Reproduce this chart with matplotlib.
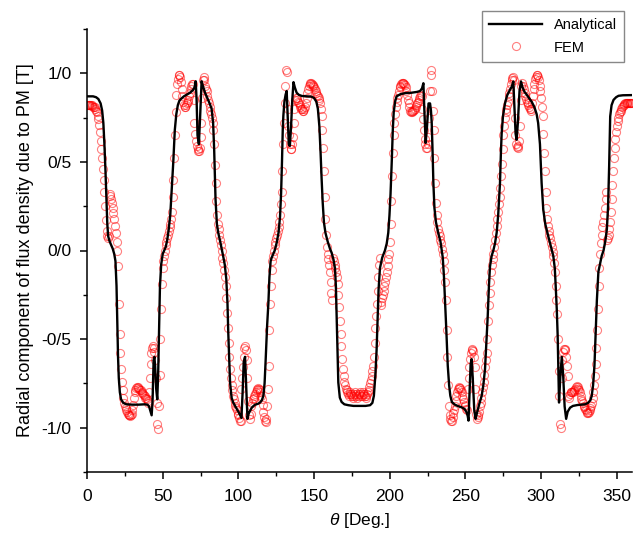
import numpy as np
import matplotlib
matplotlib.use("Agg")
import matplotlib.pyplot as plt
from matplotlib.ticker import MultipleLocator, FixedLocator, FixedFormatter

plt.rcParams['font.family'] = ['Liberation Sans', 'DejaVu Sans']
plt.rcParams['mathtext.fontset'] = 'custom'
plt.rcParams['mathtext.it'] = 'Liberation Sans:italic'
plt.rcParams['mathtext.rm'] = 'Liberation Sans'

# ---------------- data ----------------
# Analytical curve (theta [deg], B [T])
theta_analytical = [
    0, 4, 6, 7.5, 9, 10, 10.8, 11.5, 12.2, 12.8, 13.4, 14, 15, 16, 17, 18, 18.8, 19.5, 20, 20.5,
    21, 21.7, 22.5, 24, 26, 30, 34, 38, 40, 41, 42, 42.7, 43.3, 44, 44.5, 45, 45.7, 46.4, 47, 47.6,
    48.2, 49, 50, 51, 52, 53, 54, 55, 56, 57, 58, 59, 60, 61, 62, 64, 66, 68, 70, 71,
    71.8, 72.4, 73, 73.9, 74.7, 75.7, 76.5, 78, 79.5, 81, 82.3, 83.3, 84, 84.9, 85.8, 86.7, 88, 89.9, 91, 92,
    92.8, 93.3, 94, 94.5, 95.5, 96.6, 98, 100, 101.2, 102, 102.8, 103.5, 104.4, 105.2, 106, 106.8, 108, 109, 111, 113,
    114.3, 115.5, 116.5, 117.3, 118, 119, 119.8, 120.5, 121.3, 122, 123, 124, 125.3, 126.5, 127.5, 128.2, 128.8, 129.3, 129.7, 130.4,
    131.2, 131.9, 132.6, 133.3, 134, 134.8, 135.6, 136.4, 137.3, 138.5, 140, 142, 145, 148.4, 150, 151.5, 152.5, 153.5, 154.3, 155,
    155.7, 156.5, 157.5, 159, 160.5, 161.6, 162.8, 163.8, 164.4, 164.9, 165.5, 166, 167, 168.2, 170, 172.6, 176, 180, 184, 187,
    188.5, 189.5, 190.5, 191.3, 192, 192.6, 193.5, 195, 196.8, 198, 199, 199.8, 200.5, 201.3, 202, 202.6, 203.5, 204.5, 207, 210,
    214, 218, 220, 221.3, 222.2, 222.8, 223.7, 224.6, 225.6, 226.6, 227.2, 227.7, 228.3, 228.8, 229.5, 230.5, 232, 233.5, 235, 235.8,
    236.6, 237.4, 238.3, 239.2, 240, 241, 243, 245, 247.5, 249.5, 250.8, 251.5, 252, 252.7, 253.4, 254.1, 254.8, 255.8, 256.7, 257.5,
    259, 260.7, 261.8, 262.9, 263.8, 264.7, 265.5, 266.2, 267.3, 268.4, 269.5, 270.6, 271.6, 272.3, 272.8, 273.4, 273.9, 274.8, 276.1, 277.5,
    279.4, 280.6, 281.6, 282.4, 283.1, 283.8, 284.6, 285.7, 286.7, 287.7, 289, 290.4, 292, 293.7, 295.5, 297, 298, 299.2, 300.3, 301.4,
    302.7, 304.7, 306.5, 308, 309, 309.6, 310.3, 310.9, 311.4, 311.8, 312.6, 313.6, 314.5, 315.5, 316.5, 317.5, 319.1, 321, 324, 329,
    331, 332.5, 333.4, 334.3, 335.2, 336, 336.8, 337.8, 339, 340, 341.2, 342.5, 343.4, 344.2, 344.9, 345.3, 345.6, 346.5, 347.8, 349.5,
    351.1, 354, 360,
]
b_analytical = [
    0.87, 0.87, 0.865, 0.855, 0.83, 0.79, 0.72, 0.60, 0.45, 0.30, 0.15, 0.08, 0.05, 0.03, 0.01, -0.02, -0.06, -0.20, -0.40, -0.60,
    -0.72, -0.80, -0.84, -0.86, -0.868, -0.87, -0.87, -0.868, -0.87, -0.88, -0.91, -0.93, -0.85, -0.62, -0.60, -0.65, -0.78, -0.84, -0.70, -0.45,
    -0.20, -0.08, -0.02, 0.0, 0.02, 0.06, 0.12, 0.20, 0.35, 0.50, 0.68, 0.77, 0.82, 0.845, 0.855, 0.87, 0.88, 0.89, 0.905, 0.92,
    0.955, 0.85, 0.65, 0.60, 0.75, 0.955, 0.93, 0.89, 0.86, 0.83, 0.80, 0.72, 0.57, 0.29, 0.15, 0.10, 0.05, -0.03, -0.08, -0.16,
    -0.30, -0.46, -0.62, -0.745, -0.83, -0.858, -0.88, -0.91, -0.93, -0.945, -0.80, -0.63, -0.60, -0.78, -0.95, -0.92, -0.90, -0.885, -0.87, -0.865,
    -0.858, -0.845, -0.82, -0.75, -0.62, -0.42, -0.30, -0.15, -0.06, -0.04, -0.02, 0.0, 0.044, 0.10, 0.19, 0.32, 0.50, 0.68, 0.76, 0.84,
    0.88, 0.90, 0.75, 0.60, 0.59, 0.70, 0.85, 0.95, 0.92, 0.89, 0.878, 0.872, 0.87, 0.868, 0.86, 0.84, 0.80, 0.70, 0.55, 0.40,
    0.27, 0.16, 0.10, 0.05, 0.01, -0.013, -0.05, -0.10, -0.20, -0.37, -0.58, -0.745, -0.83, -0.855, -0.868, -0.873, -0.877, -0.877, -0.877, -0.873,
    -0.86, -0.82, -0.70, -0.56, -0.38, -0.22, -0.10, -0.04, 0.0, 0.04, 0.10, 0.20, 0.32, 0.50, 0.68, 0.78, 0.84, 0.87, 0.882, 0.888,
    0.89, 0.895, 0.90, 0.915, 0.944, 0.80, 0.607, 0.70, 0.83, 0.83, 0.79, 0.72, 0.55, 0.38, 0.24, 0.16, 0.10, 0.05, -0.04, -0.15,
    -0.30, -0.46, -0.65, -0.76, -0.82, -0.855, -0.87, -0.878, -0.885, -0.895, -0.915, -0.935, -0.96, -0.80, -0.64, -0.613, -0.72, -0.90, -0.95, -0.92,
    -0.87, -0.82, -0.76, -0.67, -0.52, -0.37, -0.20, -0.09, -0.03, 0.0, 0.04, 0.10, 0.20, 0.30, 0.38, 0.55, 0.66, 0.76, 0.83, 0.875,
    0.907, 0.925, 0.954, 0.80, 0.66, 0.625, 0.72, 0.90, 0.954, 0.92, 0.895, 0.88, 0.86, 0.84, 0.81, 0.77, 0.72, 0.60, 0.38, 0.23,
    0.15, 0.08, 0.02, -0.03, -0.10, -0.20, -0.33, -0.48, -0.70, -0.858, -0.72, -0.60, -0.70, -0.88, -0.95, -0.91, -0.887, -0.877, -0.872, -0.868,
    -0.86, -0.845, -0.82, -0.76, -0.65, -0.46, -0.28, -0.12, -0.07, -0.03, 0.0, 0.06, 0.12, 0.25, 0.475, 0.65, 0.757, 0.82, 0.85, 0.865,
    0.873, 0.876, 0.877,
]

# FEM results, sampled every 0.5 deg from 0 to 360 (one row = 10 deg)
fem_step = 0.5
b_fem = [
    0.82, 0.82, 0.82, 0.82, 0.82, 0.82, 0.82, 0.815, 0.81, 0.81, 0.81, 0.80, 0.79, 0.78, 0.76, 0.74, 0.71, 0.67, 0.62, 0.57,
    0.52, 0.46, 0.40, 0.33, 0.25, 0.17, 0.11, 0.08, 0.07, 0.08, 0.32, 0.31, 0.29, 0.27, 0.24, 0.21, 0.18, 0.14, 0.10, 0.05,
    0.0, -0.09, -0.30, -0.47, -0.58, -0.67, -0.74, -0.79, -0.83, -0.86, -0.88, -0.89, -0.90, -0.91, -0.92, -0.93, -0.93, -0.935, -0.93, -0.92,
    -0.90, -0.87, -0.83, -0.80, -0.785, -0.775, -0.77, -0.77, -0.775, -0.78, -0.785, -0.79, -0.80, -0.805, -0.81, -0.815, -0.82, -0.83, -0.835, -0.84,
    -0.85, -0.86, -0.80, -0.72, -0.64, -0.58, -0.55, -0.54, -0.55, -0.57, -0.62, -0.72, -0.86, -0.98, -1.01, -0.88, -0.70, -0.50, -0.33, -0.19,
    -0.10, -0.06, -0.03, 0.00, 0.03, 0.05, 0.07, 0.09, 0.11, 0.13, 0.15, 0.18, 0.22, 0.30, 0.40, 0.52, 0.65, 0.78, 0.88, 0.94,
    0.97, 0.99, 0.99, 0.98, 0.95, 0.91, 0.87, 0.84, 0.82, 0.81, 0.81, 0.82, 0.83, 0.84, 0.85, 0.87, 0.89, 0.91, 0.93, 0.94,
    0.94, 0.85, 0.72, 0.66, 0.62, 0.59, 0.57, 0.56, 0.56, 0.58, 0.64, 0.72, 0.86, 0.96, 0.98, 0.96, 0.93, 0.91, 0.90, 0.87,
    0.85, 0.83, 0.81, 0.79, 0.77, 0.75, 0.72, 0.68, 0.60, 0.48, 0.38, 0.28, 0.20, 0.15, 0.12, 0.09, 0.06, 0.03, 0.00, -0.04,
    -0.07, -0.11, -0.15, -0.20, -0.27, -0.35, -0.44, -0.52, -0.60, -0.67, -0.72, -0.76, -0.79, -0.82, -0.84, -0.86, -0.88, -0.89, -0.90, -0.92,
    -0.93, -0.945, -0.96, -0.96, -0.78, -0.72, -0.66, -0.60, -0.55, -0.54, -0.56, -0.62, -0.72, -0.85, -0.93, -0.95, -0.92, -0.88, -0.86, -0.84,
    -0.83, -0.82, -0.81, -0.80, -0.79, -0.78, -0.775, -0.78, -0.79, -0.80, -0.82, -0.84, -0.87, -0.91, -0.94, -0.96, -0.97, -0.95, -0.88, -0.78,
    -0.65, -0.45, -0.30, -0.20, -0.11, -0.06, -0.03, 0.00, 0.03, 0.05, 0.07, 0.09, 0.11, 0.13, 0.16, 0.20, 0.26, 0.33, 0.45, 0.60,
    0.72, 0.83, 0.93, 1.02, 1.01, 0.80, 0.70, 0.65, 0.60, 0.57, 0.57, 0.60, 0.64, 0.72, 0.80, 0.85, 0.86, 0.86, 0.85, 0.84,
    0.83, 0.82, 0.81, 0.80, 0.80, 0.79, 0.79, 0.80, 0.81, 0.83, 0.86, 0.89, 0.91, 0.93, 0.94, 0.945, 0.945, 0.94, 0.935, 0.93,
    0.92, 0.91, 0.90, 0.89, 0.88, 0.87, 0.86, 0.85, 0.83, 0.80, 0.76, 0.68, 0.58, 0.45, 0.30, 0.18, 0.09, 0.02, -0.02, -0.05,
    -0.08, -0.12, -0.18, -0.24, -0.28, -0.04, -0.06, -0.08, -0.10, -0.12, -0.15, -0.19, -0.25, -0.32, -0.40, -0.47, -0.54, -0.61, -0.67, -0.71,
    -0.74, -0.76, -0.78, -0.79, -0.80, -0.81, -0.82, -0.81, -0.80, -0.81, -0.82, -0.83, -0.82, -0.81, -0.80, -0.81, -0.82, -0.83, -0.82, -0.81,
    -0.80, -0.81, -0.82, -0.82, -0.81, -0.80, -0.81, -0.82, -0.83, -0.82, -0.81, -0.80, -0.79, -0.77, -0.75, -0.73, -0.71, -0.68, -0.65, -0.60,
    -0.52, -0.44, -0.37, -0.30, -0.23, -0.15, -0.08, -0.04, -0.31, -0.29, -0.27, -0.25, -0.23, -0.20, -0.18, -0.15, -0.12, -0.09, -0.05, -0.02,
    0.05, 0.15, 0.28, 0.42, 0.55, 0.65, 0.72, 0.77, 0.81, 0.84, 0.86, 0.88, 0.90, 0.92, 0.93, 0.94, 0.945, 0.945, 0.945, 0.94,
    0.935, 0.92, 0.90, 0.88, 0.85, 0.83, 0.81, 0.79, 0.78, 0.78, 0.785, 0.79, 0.795, 0.80, 0.81, 0.82, 0.83, 0.84, 0.85, 0.86,
    0.87, 0.88, 0.87, 0.80, 0.74, 0.68, 0.63, 0.60, 0.58, 0.58, 0.60, 0.64, 0.75, 0.90, 0.99, 1.02, 0.90, 0.79, 0.68, 0.52,
    0.38, 0.27, 0.20, 0.16, 0.12, 0.10, 0.08, 0.06, 0.04, 0.01, -0.02, -0.06, -0.11, -0.18, -0.28, -0.45, -0.60, -0.76, -0.88, -0.93,
    -0.95, -0.96, -0.96, -0.94, -0.915, -0.90, -0.88, -0.85, -0.82, -0.80, -0.78, -0.775, -0.77, -0.775, -0.79, -0.80, -0.82, -0.84, -0.855, -0.87,
    -0.88, -0.895, -0.90, -0.78, -0.72, -0.66, -0.61, -0.58, -0.56, -0.555, -0.565, -0.60, -0.66, -0.78, -0.92, -0.95, -0.94, -0.93, -0.91, -0.88,
    -0.86, -0.83, -0.80, -0.77, -0.74, -0.70, -0.66, -0.62, -0.58, -0.50, -0.40, -0.31, -0.24, -0.18, -0.12, -0.08, -0.05, -0.02, 0.02, 0.06,
    0.10, 0.14, 0.18, 0.22, 0.26, 0.30, 0.35, 0.42, 0.49, 0.57, 0.65, 0.70, 0.75, 0.78, 0.80, 0.82, 0.84, 0.87, 0.89, 0.91,
    0.94, 0.96, 0.975, 0.98, 0.96, 0.75, 0.65, 0.60, 0.585, 0.58, 0.59, 0.62, 0.70, 0.85, 0.93, 0.945, 0.93, 0.91, 0.89, 0.87,
    0.855, 0.84, 0.83, 0.82, 0.81, 0.80, 0.79, 0.80, 0.83, 0.87, 0.91, 0.94, 0.97, 0.98, 0.99, 0.99, 0.98, 0.96, 0.93, 0.90,
    0.86, 0.81, 0.76, 0.66, 0.55, 0.45, 0.33, 0.24, 0.18, 0.14, 0.11, 0.09, 0.07, 0.04, 0.02, -0.01, -0.03, -0.07, -0.12, -0.20,
    -0.28, -0.36, -0.50, -0.68, -0.82, -0.98, -1.00, -0.72, -0.62, -0.57, -0.555, -0.555, -0.56, -0.60, -0.65, -0.71, -0.82, -0.83, -0.81, -0.80,
    -0.80, -0.80, -0.80, -0.795, -0.79, -0.78, -0.77, -0.765, -0.77, -0.78, -0.79, -0.80, -0.82, -0.84, -0.85, -0.86, -0.875, -0.885, -0.895, -0.90,
    -0.91, -0.915, -0.915, -0.91, -0.90, -0.89, -0.88, -0.86, -0.83, -0.80, -0.76, -0.71, -0.64, -0.55, -0.45, -0.33, -0.20, -0.10, -0.02, 0.04,
    0.09, 0.13, 0.16, 0.20, 0.24, 0.29, 0.33, 0.06, 0.07, 0.09, 0.12, 0.16, 0.22, 0.29, 0.37, 0.45, 0.52, 0.58, 0.63, 0.67,
    0.70, 0.73, 0.75, 0.77, 0.78, 0.79, 0.80, 0.81, 0.815, 0.82, 0.825, 0.83, 0.83, 0.83, 0.83, 0.83, 0.83, 0.83, 0.83, 0.83,
    0.83,
]
theta_fem = np.arange(len(b_fem)) * fem_step

x_ticks = [0, 50, 100, 150, 200, 250, 300, 350]
y_ticks = [-1.0, -0.5, 0.0, 0.5, 1.0]
y_tick_labels = ['-1/0', '-0/5', '0/0', '0/5', '1/0']

# ---------------- figure ----------------
fig = plt.figure(figsize=(6.4, 5.36), dpi=100)
ax = fig.add_axes([87 / 640, 1 - 472 / 536, 545 / 640, 443 / 536])

ax.plot(theta_fem, b_fem, linestyle='none', marker='o', markersize=5.8,
        markerfacecolor='none', markeredgecolor=(1, 0, 0, 0.5),
        markeredgewidth=0.8, label='FEM', zorder=2)
ax.plot(theta_analytical, b_analytical, color='black', linewidth=1.7,
        label='Analytical', zorder=3)

ax.set_xlim(0, 360)
ax.set_ylim(-1.25, 1.25)

ax.xaxis.set_major_locator(FixedLocator(x_ticks))
ax.xaxis.set_minor_locator(MultipleLocator(25))
ax.yaxis.set_major_locator(FixedLocator(y_ticks))
ax.yaxis.set_major_formatter(FixedFormatter(y_tick_labels))
ax.yaxis.set_minor_locator(MultipleLocator(0.25))

for s in ['top', 'right']:
    ax.spines[s].set_visible(False)
for s in ['left', 'bottom']:
    ax.spines[s].set_linewidth(1.1)

ax.tick_params(which='major', direction='out', length=5, width=1.1, labelsize=12.5)
ax.tick_params(axis='x', which='major', pad=7)
ax.tick_params(axis='y', which='major', pad=6)
ax.tick_params(which='minor', direction='out', length=3, width=1.0)

ax.set_xlabel(r'$\theta$ [Deg.]', fontsize=12.5)
ax.set_ylabel('Radial component of flux density due to PM [T]', fontsize=13)
ax.yaxis.set_label_coords(-0.098, 0.5)
ax.xaxis.set_label_coords(0.5, -0.088)

handles, labels = ax.get_legend_handles_labels()
order = [1, 0]
leg = fig.legend([handles[i] for i in order], [labels[i] for i in order],
                 loc='upper right', bbox_to_anchor=(624 / 640, 1 - 10.5 / 536),
                 fontsize=10.5, frameon=True, fancybox=False, framealpha=1,
                 edgecolor='#888888', handlelength=3.6, borderpad=0.5,
                 labelspacing=0.6, borderaxespad=0)
leg.get_frame().set_linewidth(1.0)

fig.savefig('out.png', dpi=100)
